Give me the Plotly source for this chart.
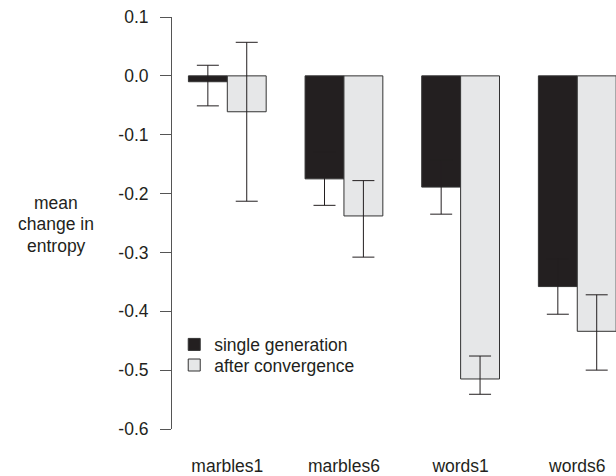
import plotly.graph_objects as go

# Conditions and mean change in entropy, with error-bar extents
groups = ["marbles1", "marbles6", "words1", "words6"]
single = [-0.010, -0.175, -0.189, -0.358]
single_err_up = [0.028, 0.045, 0.046, 0.047]
single_err_down = [0.041, 0.045, 0.046, 0.047]
after = [-0.061, -0.238, -0.515, -0.434]
after_err_up = [0.118, 0.060, 0.039, 0.062]
after_err_down = [0.152, 0.070, 0.026, 0.066]

ytick_vals = [0.1, 0.0, -0.1, -0.2, -0.3, -0.4, -0.5, -0.6]
ytick_text = ["0.1", "0.0", "-0.1", "-0.2", "-0.3", "-0.4", "-0.5", "-0.6"]
ytitle_lines = ["mean", "change in", "entropy"]

FONT = "Liberation Sans, Arial, sans-serif"
INK = "#231f20"
FS = 17.5

fig = go.Figure()
fig.add_trace(go.Bar(
    x=groups, y=single, name="single generation", legend="legend",
    marker=dict(color=INK, line=dict(color="#333333", width=1)),
    error_y=dict(type="data", symmetric=False, array=single_err_up,
                 arrayminus=single_err_down, color=INK, thickness=1, width=11),
))
fig.add_trace(go.Bar(
    x=groups, y=after, name="after convergence", legend="legend2",
    marker=dict(color="#e6e7e8", line=dict(color="#333333", width=1)),
    error_y=dict(type="data", symmetric=False, array=after_err_up,
                 arrayminus=after_err_down, color=INK, thickness=1, width=11),
))

legend_common = dict(xanchor="left", yanchor="middle", bgcolor="rgba(0,0,0,0)",
                     font=dict(size=FS, color=INK))

# three-line y-axis title, one annotation per line (pixel rows -> paper fraction)
title_y = [206, 228, 250]
title_x = (56 - 172) / 444
annotations = [
    dict(text=t, xref="paper", yref="paper", x=title_x, y=(436 - py) / 419,
         xanchor="center", yanchor="middle", showarrow=False,
         font=dict(size=FS, color=INK))
    for t, py in zip(ytitle_lines, title_y)
]

fig.update_layout(
    width=616, height=476,
    margin=dict(l=172, r=0, t=17, b=40),
    paper_bgcolor="white", plot_bgcolor="white",
    barmode="group", bargap=1/3, bargroupgap=0,
    font=dict(family=FONT, size=FS, color=INK),
    showlegend=True,
    legend=dict(x=0.005, y=0.205, **legend_common),
    legend2=dict(x=0.005, y=0.155, **legend_common),
    xaxis=dict(range=[-0.474, 3.332], showline=False, showgrid=False,
               zeroline=False, ticks="", ticklabelstandoff=24),
    yaxis=dict(range=[-0.6, 0.1], tickvals=ytick_vals, ticktext=ytick_text,
               showline=True, linecolor="#555555", linewidth=1,
               ticks="outside", ticklen=11, tickcolor="#555555",
               showgrid=False, zeroline=False, ticklabelstandoff=8),
    annotations=annotations,
)

fig.write_html("out.html")
